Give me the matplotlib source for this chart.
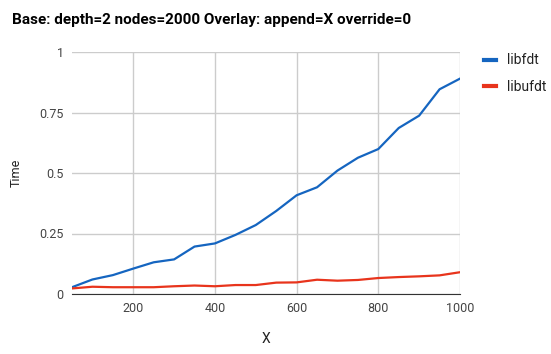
import matplotlib
matplotlib.use("Agg")
import matplotlib.pyplot as plt

plt.rcParams['font.family'] = ['Roboto', 'DejaVu Sans']

x_vals = [50, 100, 150, 200, 250, 300, 350, 400, 450, 500,
          550, 600, 650, 700, 750, 800, 850, 900, 950, 1000]
libfdt = [0.028, 0.060, 0.078, 0.105, 0.131, 0.143, 0.196, 0.209, 0.244, 0.285,
          0.343, 0.408, 0.441, 0.510, 0.563, 0.599, 0.686, 0.737, 0.846, 0.890]
libufdt = [0.023, 0.030, 0.028, 0.028, 0.028, 0.032, 0.035, 0.032, 0.037, 0.037,
           0.047, 0.048, 0.059, 0.055, 0.058, 0.066, 0.070, 0.073, 0.077, 0.090]
y_ticks = [0, 0.25, 0.5, 0.75, 1]
y_tick_labels = ['0', '0.25', '0.5', '0.75', '1']
x_ticks = [200, 400, 600, 800, 1000]

W, H = 551, 354
fig = plt.figure(figsize=(W / 100, H / 100), dpi=100)
ax = fig.add_axes([72 / W, 1 - 294 / H, (460 - 72) / W, (294 - 52) / H])

ax.plot(x_vals, libfdt, color='#1565c0', linewidth=1.6, label='libfdt', zorder=3)
ax.plot(x_vals, libufdt, color='#e8341c', linewidth=1.6, label='libufdt', zorder=3)

ax.set_xlim(50, 1000)
ax.set_ylim(0, 1)
ax.set_xticks(x_ticks)
ax.set_yticks(y_ticks)
ax.set_yticklabels(y_tick_labels)
ax.grid(True, color='#cccccc', linewidth=1)
ax.tick_params(length=0, labelsize=9, colors='#444444', pad=6)
for s in ['top', 'right', 'left']:
    ax.spines[s].set_visible(False)
ax.spines['bottom'].set_color('#333333')
ax.spines['bottom'].set_zorder(4)

ax.set_xlabel('X', fontsize=10, color='#222222', labelpad=12)
ax.set_ylabel('Time', fontsize=9, color='#222222', labelpad=12)

fig.text(12 / W, 1 - 20 / H, 'Base: depth=2 nodes=2000 Overlay: append=X override=0',
         fontsize=11, fontweight='bold', va='center', ha='left', color='#000000')

leg = ax.legend(loc='upper left', bbox_to_anchor=(471 / W, 1 - 41 / H),
                bbox_transform=fig.transFigure, frameon=False, fontsize=10,
                handlelength=0.9, handletextpad=0.8, labelspacing=0.9,
                labelcolor='#222222')
for line in leg.get_lines():
    line.set_linewidth(3)

fig.savefig('out.png', dpi=100)
